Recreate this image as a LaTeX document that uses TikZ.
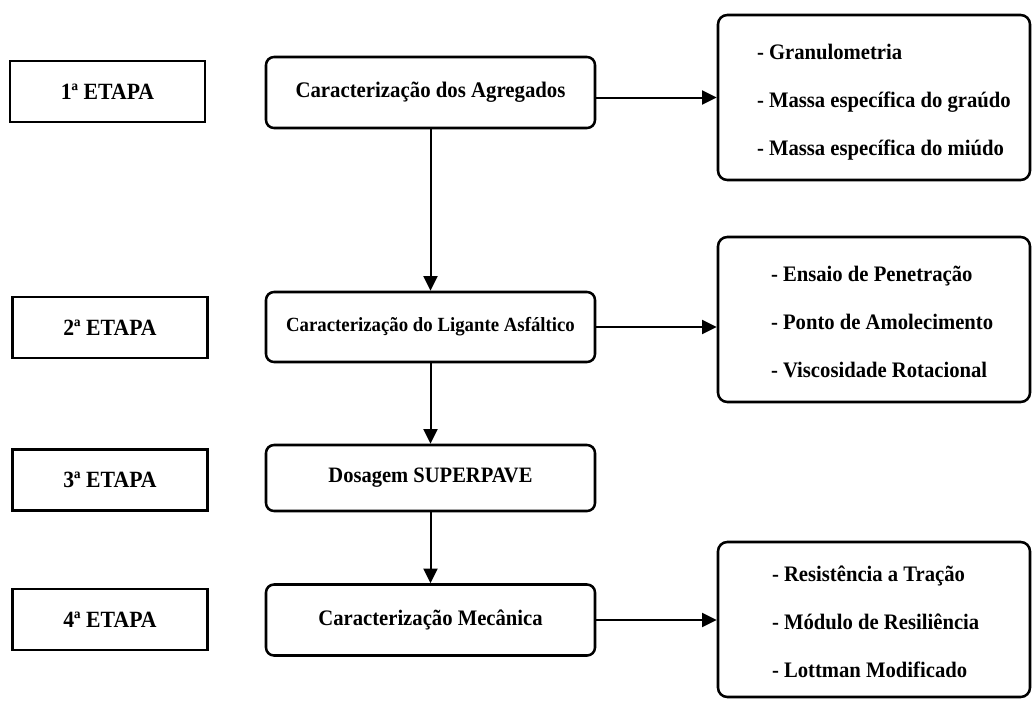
\documentclass[tikz,border=0pt]{standalone}
\usepackage{graphicx}
\usepackage{fontspec}
\setmainfont{Liberation Serif}
\usetikzlibrary{arrows.meta,calc}
\newcommand{\vtall}[1]{\scalebox{1}[1.07]{#1}}
\newcommand{\vlist}[1]{\scalebox{1}[1.07]{\fontsize{15.5}{33.6}\selectfont\bfseries\begin{tabular}{@{}l@{}}#1\end{tabular}}}
\tikzset{
  stagebox/.style={draw, line width=2pt, minimum width=195*0.75pt, minimum height=61*0.75pt, inner sep=0pt, font=\fontsize{16.3}{19}\selectfont\bfseries},
  mainbox/.style={draw, line width=1.9pt, rounded corners=6pt, minimum width=329*0.75pt, inner sep=0pt},
  listbox/.style={draw, line width=1.9pt, rounded corners=7pt, minimum width=312*0.75pt, inner sep=0pt},
  listtext/.style={anchor=west, inner sep=0pt},
  arr/.style={line width=1.5pt, -{Triangle[length=11pt, width=10.5pt]}}
}
\begin{document}
\begin{tikzpicture}[x=0.75pt, y=-0.75pt]
\useasboundingbox (0,0) rectangle (1035,700);

% stage labels
\node[stagebox] (L1) at (107.5,91.5) {\vtall{1ª ETAPA}};
\node[stagebox] (L2) at (110,327.5) {\vtall{2ª ETAPA}};
\node[stagebox] (L3) at (110,480) {\vtall{3ª ETAPA}};
\node[stagebox] (L4) at (110,619.5) {\vtall{4ª ETAPA}};

% main boxes
\node[mainbox, minimum height=71*0.75pt, font=\fontsize{15.6}{18}\selectfont\bfseries] (M1) at (430.5,92.5) {\vtall{Caracterização dos Agregados}};
\node[mainbox, minimum height=70*0.75pt, font=\fontsize{14.1}{17}\selectfont\bfseries] (M2) at (430.5,327) {\vtall{Caracterização do Ligante Asfáltico}};
\node[mainbox, minimum height=66*0.75pt, font=\fontsize{15.4}{18}\selectfont\bfseries] (M3) at (430.5,478) {\vtall{Dosagem SUPERPAVE}};
\node[mainbox, minimum height=71*0.75pt, font=\fontsize{15.5}{18}\selectfont\bfseries] (M4) at (430.5,620) {\vtall{Caracterização Mecânica}};

% list boxes
\node[listbox, minimum height=165*0.75pt] (R1) at (874,97.5) {};
\node[listbox, minimum height=165*0.75pt] (R2) at (874,319.5) {};
\node[listbox, minimum height=155*0.75pt] (R3) at (874,619.5) {};

\node[listtext] (R1t) at ([xshift=40*0.75pt]R1.west) {\vlist{- Granulometria\\- Massa específica do graúdo\\- Massa específica do miúdo}};
\node[listtext] (R2t) at ([xshift=54*0.75pt]R2.west) {\vlist{- Ensaio de Penetração\\- Ponto de Amolecimento\\- Viscosidade Rotacional}};
\node[listtext] (R3t) at ([xshift=55*0.75pt]R3.west) {\vlist{- Resistência a Tração\\- Módulo de Resiliência\\- Lottman Modificado}};

% connectors
\draw[arr] (M1.south) -- (M2.north);
\draw[arr] (M2.south) -- (M3.north);
\draw[arr] (M3.south) -- (M4.north);
\draw[arr] (M1.east |- R1.west) -- (R1.west);
\draw[arr] (M2.east) -- (M2.east -| R2.west);
\draw[arr] (M4.east) -- (M4.east -| R3.west);
\end{tikzpicture}
\end{document}
